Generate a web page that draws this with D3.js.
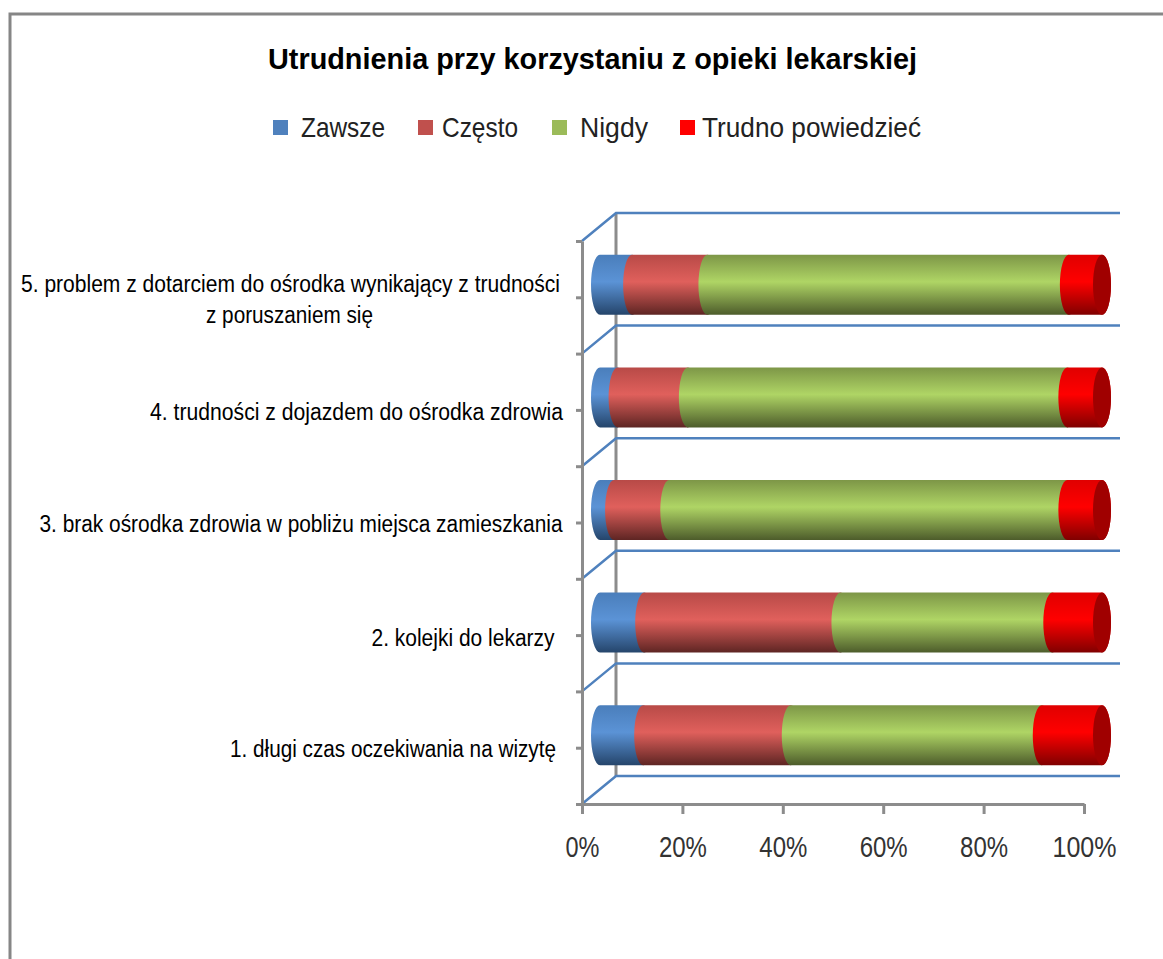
<!DOCTYPE html>
<html>
<head>
<meta charset="utf-8">
<script src="https://cdn.jsdelivr.net/npm/d3@7"></script>
<style>
  body { margin: 0; background: #fff; }
  svg { display: block; }
  text { font-family: "Liberation Sans", sans-serif; }
</style>
</head>
<body>
<svg id="chart" width="1163" height="959"></svg>
<script>
// top to bottom, as the picture shows them
const categories = [
    ['5. problem z dotarciem do ośrodka wynikający z trudności', 'z poruszaniem się'],
    ['4. trudności z dojazdem do ośrodka zdrowia'],
    ['3. brak ośrodka zdrowia w pobliżu miejsca zamieszkania'],
    ['2. kolejki do lekarzy'],
    ['1. długi czas oczekiwania na wizytę']
];
const seriesNames = ['Zawsze', 'Często', 'Nigdy', 'Trudno powiedzieć'];
const zawsze = [6.4, 3.5, 2.8, 8.8, 8.6];
const czesto = [15, 14, 11, 39.1, 29.4];
const nigdy = [72, 75.6, 79.3, 42.2, 50];
const trudno = [6.6, 6.9, 6.9, 9.9, 12];
const xTicks = [0, 20, 40, 60, 80, 100];

const baseColors = ['#4f81bd', '#c0504d', '#9bbb59', '#ff0000'];
const ramps = [
    ['#4a7ebb', '#5b93d6', '#25456b'],
    ['#b84a47', '#e0605c', '#5e2523'],
    ['#7d9647', '#afd565', '#4d5c2b'],
    ['#e00000', '#ff0000', '#800000']
];

const svg = d3.select('#chart');
const gray = '#8c8c8c';
const gridBlue = '#4f81bd';

// frame
svg.append('path')
    .attr('d', 'M10,959V14H1163')
    .attr('fill', 'none')
    .attr('stroke', '#868686')
    .attr('stroke-width', 3);

// fit a text to the width it has in the reference
function sized(sel, width) {
    return sel.attr('textLength', width).attr('lengthAdjust', 'spacingAndGlyphs');
}

sized(svg.append('text')
    .attr('x', 268).attr('y', 69)
    .attr('font-size', 30).attr('font-weight', 700).attr('fill', '#000')
    .text('Utrudnienia przy korzystaniu z opieki lekarskiej'), 649);

// legend
const legendBox = [273, 418, 552, 680];
const legendText = [301, 442, 580, 702];
const legendWidth = [84, 76, 68, 219];
seriesNames.forEach((name, i) => {
    svg.append('rect')
        .attr('x', legendBox[i]).attr('y', 120)
        .attr('width', 15).attr('height', 15)
        .attr('fill', baseColors[i]);
    sized(svg.append('text')
        .attr('x', legendText[i]).attr('y', 137)
        .attr('font-size', 28).attr('fill', '#222')
        .text(name), legendWidth[i]);
});

// scales: front plane of the 3D box
const x = d3.scaleLinear().domain([0, 100]).range([582, 1084]);
const y = d3.scaleBand().domain(d3.range(categories.length)).range([241, 804]);
const depthX = 34, depthY = -28;
const barShiftX = 18, barShiftY = -12.5;
const barH = 60, capRx = 9;

// back wall and side wall
const edges = d3.range(categories.length).map(i => y(i)).concat([804]);
const walls = svg.append('g');
walls.append('line')
    .attr('x1', 582 + depthX).attr('x2', 582 + depthX)
    .attr('y1', 241 + depthY).attr('y2', 804 + depthY)
    .attr('stroke', gray).attr('stroke-width', 3);
edges.forEach(e => {
    walls.append('path')
        .attr('d', `M${x(0)},${e}L${x(0) + depthX},${e + depthY}H1120`)
        .attr('fill', 'none')
        .attr('stroke', gridBlue)
        .attr('stroke-width', 2.5);
});

// axes
const yAxisScale = d3.scaleLinear().domain([0, categories.length]).range([241, 804]);
svg.append('g')
    .attr('transform', 'translate(582,0)')
    .call(d3.axisLeft(yAxisScale)
        .tickValues(d3.range(0, categories.length + 0.5, 0.5))
        .tickFormat('').tickSize(6).tickSizeOuter(0))
    .call(g => g.selectAll('path,line').attr('stroke', gray).attr('stroke-width', 3));

const tickWidth = [34, 48, 48, 48, 48, 64];
const xAxis = svg.append('g')
    .attr('transform', 'translate(0,804)')
    .call(d3.axisBottom(x)
        .tickValues(xTicks)
        .tickFormat(d => d + '%')
        .tickSize(10).tickSizeOuter(0).tickPadding(22));
xAxis.selectAll('path,line').attr('stroke', gray).attr('stroke-width', 3);
xAxis.selectAll('text')
    .attr('font-size', 29)
    .attr('fill', '#333')
    .attr('font-family', '"Liberation Sans", sans-serif')
    .attr('textLength', (d, i) => tickWidth[i])
    .attr('lengthAdjust', 'spacingAndGlyphs');

// gradients
const defs = svg.append('defs');
ramps.forEach((r, i) => {
    const g = defs.append('linearGradient')
        .attr('id', 'ramp' + i)
        .attr('x1', 0).attr('x2', 0).attr('y1', 0).attr('y2', 1);
    g.append('stop').attr('offset', '0%').attr('stop-color', r[0]);
    g.append('stop').attr('offset', '45%').attr('stop-color', r[1]);
    g.append('stop').attr('offset', '100%').attr('stop-color', r[2]);
});

// bars
const stackRows = categories.map((c, i) => ({
    i, s0: zawsze[i], s1: czesto[i], s2: nigdy[i], s3: trudno[i]
}));
const stacked = d3.stack().keys(['s0', 's1', 's2', 's3'])(stackRows);

stacked.forEach((layer, k) => {
    layer.forEach(d => {
        const i = d.data.i;
        const top = y(i) + y.bandwidth() / 2 + barShiftY - barH / 2;
        const bot = top + barH;
        const x0 = x(d[0]) + barShiftX, x1 = x(d[1]) + barShiftX;
        svg.append('path')
            .attr('d', `M${x0},${top}A${capRx},${barH / 2} 0 0 0 ${x0},${bot}L${x1},${bot}A${capRx},${barH / 2} 0 0 0 ${x1},${top}Z`)
            .attr('fill', `url(#ramp${k})`);
        if (k === 3) {
            svg.append('ellipse')
                .attr('cx', x1).attr('cy', (top + bot) / 2)
                .attr('rx', capRx).attr('ry', barH / 2)
                .attr('fill', '#a00000');
        }
    });
});

// category labels
const labelLeft = [[21, 206], [150], [39.5], [371.5], [230]];
const labelWidth = [[539, 167], [413], [523], [183], [326]];
const labelBase = [[292, 323], [420], [532], [646], [757]];
categories.forEach((lines, i) => {
    lines.forEach((line, j) => {
        sized(svg.append('text')
            .attr('x', labelLeft[i][j]).attr('y', labelBase[i][j])
            .attr('font-size', 23).attr('fill', '#000')
            .text(line), labelWidth[i][j]);
    });
});
</script>
</body>
</html>
